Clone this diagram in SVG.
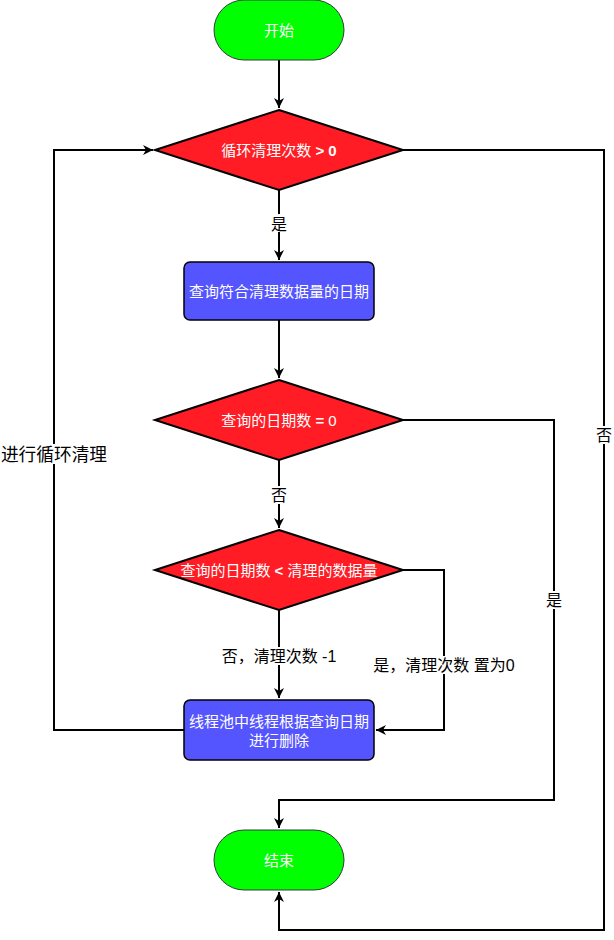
<svg xmlns="http://www.w3.org/2000/svg" width="614" height="940" viewBox="0 0 614 940">
<defs>
<marker id="arr" viewBox="0 0 10 10" refX="10" refY="5" markerWidth="5" markerHeight="5" orient="auto" markerUnits="strokeWidth">
<path d="M0,0 L10,5 L0,10 L3,5 Z" fill="#000"/>
</marker>
<style>
.term{fill:#00ff00;stroke:#36393d;stroke-width:1}
.dec{fill:#ff1c24;stroke:#000;stroke-width:2}
.proc{fill:#5555ff;stroke:#000;stroke-width:1.5}
.nt{font-family:"Liberation Sans","Noto Sans CJK SC",sans-serif;font-size:15px;fill:#fff;text-anchor:middle}
.el{font-family:"Liberation Sans","Noto Sans CJK SC",sans-serif;font-size:16px;fill:#000;text-anchor:middle}
.bg{fill:#fff}
.ln{fill:none;stroke:#000;stroke-width:2}
</style>
</defs>
<rect width="614" height="940" fill="#fff"/>
<g id="connectors">
<path class="ln" d="M279,60 L279,108" marker-end="url(#arr)"/>
<path class="ln" d="M279,190 L279,260" marker-end="url(#arr)"/>
<path class="ln" d="M279,320 L279,378" marker-end="url(#arr)"/>
<path class="ln" d="M279,460 L279,528" marker-end="url(#arr)"/>
<path class="ln" d="M279,610 L279,698" marker-end="url(#arr)"/>
<path class="ln" d="M403,570 L444,570 L444,730 L376,730" marker-end="url(#arr)"/>
<path class="ln" d="M184,730 L54,730 L54,150 L153,150" marker-end="url(#arr)"/>
<path class="ln" d="M403,420 L554,420 L554,800 L279,800 L279,828" marker-end="url(#arr)"/>
<path class="ln" d="M403,150 L604,150 L604,930 L279,930 L279,892" marker-end="url(#arr)"/>
<rect class="bg" x="271" y="214" width="16" height="18"/>
<text class="el" x="279" y="230">是</text>
<rect class="bg" x="271" y="486" width="16" height="18"/>
<text class="el" x="279" y="501">否</text>
<rect class="bg" x="222" y="647" width="114" height="18"/>
<text class="el" x="279" y="662">否，清理次数 -1</text>
<rect class="bg" x="373" y="656" width="142" height="18"/>
<text class="el" x="444" y="671">是，清理次数 置为0</text>
<rect class="bg" x="546" y="591" width="16" height="18"/>
<text class="el" x="554" y="606">是</text>
<rect class="bg" x="596" y="426" width="16" height="18"/>
<text class="el" x="604" y="441">否</text>
<rect class="bg" x="0" y="444" width="108" height="20"/>
<text class="el" x="54" y="461" style="font-size:17.7px">进行循环清理</text>
</g>
<g id="start">
<rect class="term" x="214" y="0" width="130" height="60" rx="30" ry="30"/>
<text class="nt" x="279" y="36">开始</text>
</g>
<g id="cond1">
<polygon class="dec" points="279,110 403,150 279,190 155,150"/>
<text class="nt" x="279" y="156">循环清理次数 <tspan font-weight="bold">&gt; 0</tspan></text>
</g>
<g id="query">
<rect class="proc" x="184" y="262" width="190" height="58" rx="6" ry="6"/>
<text class="nt" x="279" y="297">查询符合清理数据量的日期</text>
</g>
<g id="cond2">
<polygon class="dec" points="279,380 403,420 279,460 155,420"/>
<text class="nt" x="279" y="426">查询的日期数 <tspan font-weight="bold">=</tspan> 0</text>
</g>
<g id="cond3">
<polygon class="dec" points="279,530 403,570 279,610 155,570"/>
<text class="nt" x="279" y="576">查询的日期数 <tspan font-weight="bold">&lt;</tspan> 清理的数据量</text>
</g>
<g id="delete">
<rect class="proc" x="184" y="700" width="190" height="60" rx="6" ry="6"/>
<text class="nt" x="279" y="727">线程池中线程根据查询日期</text>
<text class="nt" x="279" y="746">进行删除</text>
</g>
<g id="end">
<rect class="term" x="214" y="830" width="130" height="60" rx="30" ry="30"/>
<text class="nt" x="279" y="866">结束</text>
</g>
</svg>
